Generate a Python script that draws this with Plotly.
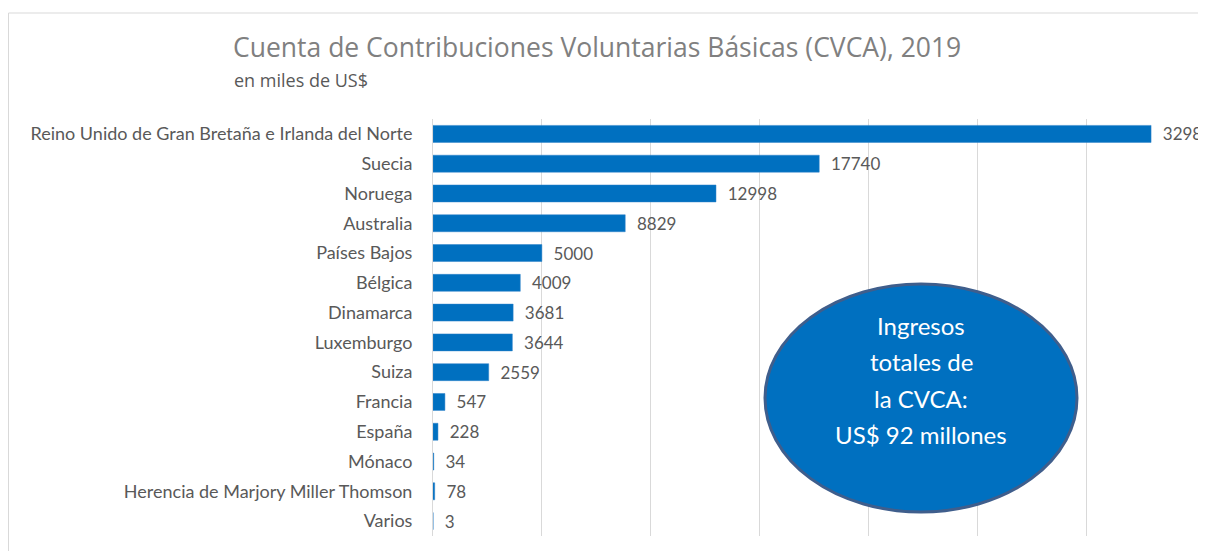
import plotly.graph_objects as go

categories = [
    "Reino Unido de Gran Bretaña e Irlanda del Norte",
    "Suecia",
    "Noruega",
    "Australia",
    "Países Bajos",
    "Bélgica",
    "Dinamarca",
    "Luxemburgo",
    "Suiza",
    "Francia",
    "España",
    "Mónaco",
    "Herencia de Marjory Miller Thomson",
    "Varios",
]
values = [32982, 17740, 12998, 8829, 5000, 4009, 3681, 3644, 2559, 547, 228, 34, 78, 3]
value_labels = [str(v) for v in values]

title_text = "Cuenta de Contribuciones Voluntarias Básicas (CVCA), 2019"
subtitle_text = "en miles de US$"
bubble_lines = ["Ingresos", "totales de", "la CVCA:", "US$ 92 millones"]

# The page body has an 8px margin, so the figure is drawn 8px smaller and
# all positions below are given in page pixels and converted.
OFF = 8
W, H = 1206 - OFF, 551 - OFF
# plot area in page pixels
PX0, PX1, PY0, PY1 = 433, 1195, 119, 536
L, R = PX0 - OFF, W - (PX1 - OFF)
T, B = PY0 - OFF, H - (PY1 - OFF)
PW, PH = PX1 - PX0, PY1 - PY0


def px(x):
    return (x - PX0) / PW


def py(y):
    return (PY1 - y) / PH


FONT = "Lato"
GREY = "#595959"

fig = go.Figure()
fig.add_trace(go.Bar(
    x=values,
    y=categories,
    orientation="h",
    marker=dict(color="#0070C0", line=dict(color="#2F80C8", width=0.5)),
    width=0.57,
    text=value_labels,
    texttemplate="  %{text}",
    textposition="outside",
    constraintext="none",
    textfont=dict(family=FONT, size=17, color=GREY),
    cliponaxis=False,
))

fig.update_layout(
    width=W, height=H,
    margin=dict(l=L, r=R, t=T, b=B),
    paper_bgcolor="white",
    plot_bgcolor="white",
    showlegend=False,
    font=dict(family=FONT, color=GREY),
    xaxis=dict(range=[0, 35000], dtick=5000, showticklabels=False,
               showgrid=True, gridcolor="#d9d9d9", gridwidth=1,
               zeroline=False, showline=False, fixedrange=True),
    yaxis=dict(autorange="reversed", showline=True, linecolor="#d9d9d9",
               linewidth=1, ticks="", ticklabelstandoff=16,
               tickfont=dict(family=FONT, size=18, color=GREY),
               showgrid=False, zeroline=False),
)

shapes = [
    # outer chart border (left and top)
    dict(type="line", xref="paper", yref="paper", x0=px(8.5), x1=px(8.5), y0=py(13), y1=py(560),
         line=dict(color="#d9d9d9", width=1)),
    dict(type="line", xref="paper", yref="paper", x0=px(8.5), x1=px(1205), y0=py(13), y1=py(13),
         line=dict(color="#d9d9d9", width=1)),
    # bubble
    dict(type="circle", xref="paper", yref="paper", x0=px(765), x1=px(1077), y0=py(512), y1=py(284),
         fillcolor="#0070C0", line=dict(color="#3F5E8C", width=3)),
]
fig.update_layout(shapes=shapes)

annotations = [
    dict(text=title_text, xref="paper", yref="paper", x=px(231), y=py(47), xanchor="left",
         yanchor="middle", showarrow=False, font=dict(family="Open Sans", size=26.5, color="#808080")),
    dict(text=subtitle_text, xref="paper", yref="paper", x=px(232), y=py(80), xanchor="left",
         yanchor="middle", showarrow=False, font=dict(family="Open Sans", size=18, color=GREY)),
]
for line, yy in zip(bubble_lines, [325, 361, 398, 434]):
    annotations.append(dict(text=line, xref="paper", yref="paper", x=px(921), y=py(yy),
                            xanchor="center", yanchor="middle", showarrow=False,
                            font=dict(family=FONT, size=24, color="white")))
fig.update_layout(annotations=annotations)

fig.write_html("out.html")
